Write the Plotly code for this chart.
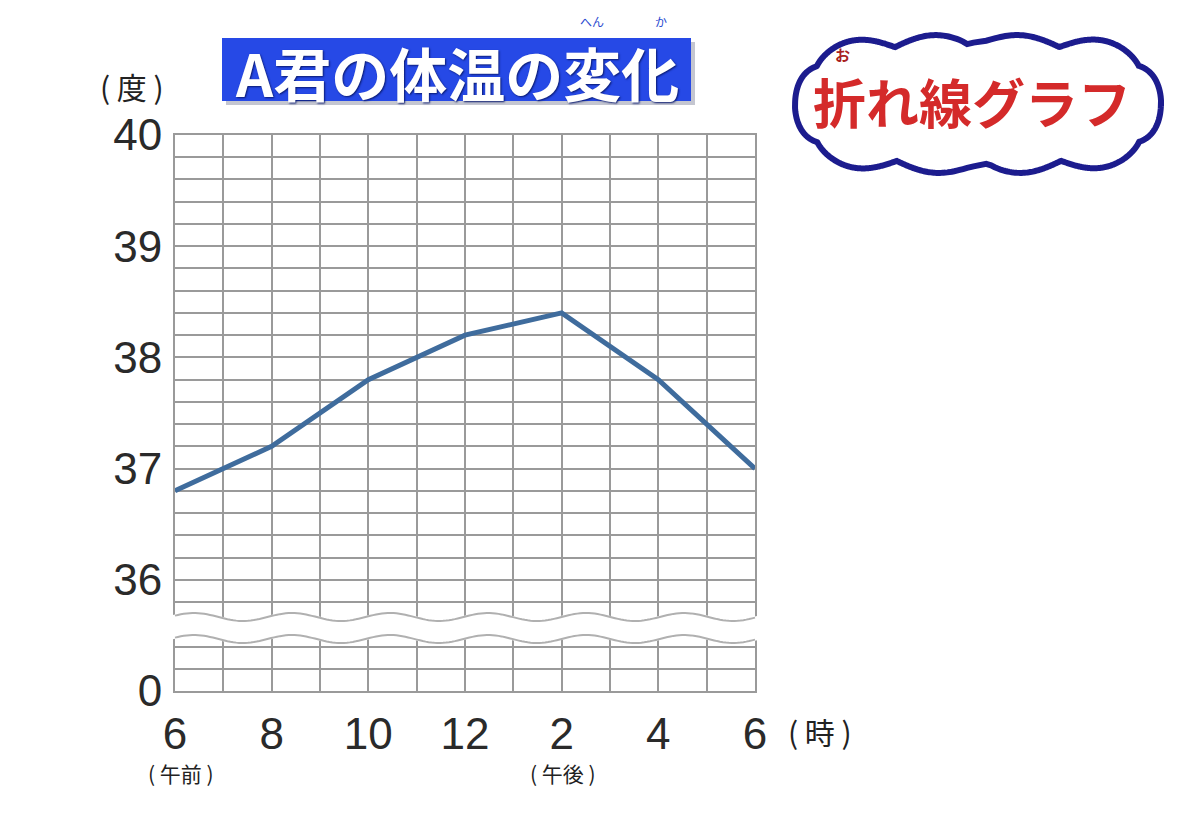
import numpy as np
import plotly.graph_objects as go

# data
hours = [6, 8, 10, 12, 14, 16, 18]
hour_labels = ["6", "8", "10", "12", "2", "4", "6"]
temps = [36.8, 37.2, 37.8, 38.2, 38.4, 37.8, 37.0]
y_labels = ["0", "36", "37", "38", "39", "40"]
y_values = [0, 36, 37, 38, 39, 40]

# broken axis: the "0" row sits one degree below 36
BREAK_BASE = 35.0


def to_axis(v):
    return BREAK_BASE if v == 0 else v


# plot box in pixels
L, R, T, B = 175, 755, 135, 691
W, H = 1200, 821


def px(x):
    return (x - L) / (R - L)


def py(y):
    return (B - y) / (B - T)


def ypx_to_data(y):
    return BREAK_BASE + (B - y) / (B - T) * 5.0


GRID = "#9a9a9a"
CJK = "Noto Sans CJK JP"

fig = go.Figure()
fig.add_trace(go.Scatter(
    x=hours, y=temps, mode="lines",
    line=dict(color="#3f6c9d", width=5),
    hoverinfo="skip", showlegend=False))

shapes = []

# wavy break across the grid
xs = np.linspace(L - 3, R + 3, 200)
wave = 4 * np.cos(2 * np.pi * (xs - 243) / 98)
upper = ypx_to_data(617 + wave)
lower = ypx_to_data(639 + wave)


def pts(xv, yv):
    return " L ".join(f"{px(a):.5f},{b:.5f}" for a, b in zip(xv, yv))


band = "M " + pts(xs, upper + 0.01) + " L " + pts(xs[::-1], (lower - 0.01)[::-1]) + " Z"
shapes.append(dict(type="path", xref="paper", yref="y", path=band,
                   fillcolor="white", line=dict(width=0), layer="above"))
xs2 = np.linspace(L, R, 200)
wave2 = 4 * np.cos(2 * np.pi * (xs2 - 243) / 98)
for base in (617, 639):
    shapes.append(dict(type="path", xref="paper", yref="y",
                       path="M " + pts(xs2, ypx_to_data(base + wave2)),
                       line=dict(color="#b0b0b0", width=2), layer="above"))

# title box with shadow
shapes.append(dict(type="rect", xref="paper", yref="paper",
                   x0=px(226), x1=px(695), y0=py(105), y1=py(42),
                   fillcolor="#c4c6d0", line=dict(width=0)))
shapes.append(dict(type="rect", xref="paper", yref="paper",
                   x0=px(222), x1=px(691), y0=py(101), y1=py(38),
                   fillcolor="#2649e6", line=dict(width=0)))

# cloud outline
t = np.linspace(0, 2 * np.pi, 1200)
cx, cy, a, b = 978, 104, 172, 58
p = 0.55
bx = cx + a * np.sign(np.cos(t)) * np.abs(np.cos(t)) ** p
by = cy + b * np.sign(np.sin(t)) * np.abs(np.sin(t)) ** p
seg = np.hypot(np.diff(bx, append=bx[0]), np.diff(by, append=by[0]))
s = np.cumsum(seg) / seg.sum()
bump = np.abs(np.sin(np.pi * 10 * (s + 0.05)))
nx = np.gradient(by)
ny = -np.gradient(bx)
nn = np.hypot(nx, ny)
nx, ny = nx / nn, ny / nn
d = 11 * bump
cxs = bx - nx * d
cys = by - ny * d
# make sure normal points outward
if np.mean((cxs - cx) ** 2) < np.mean((bx - cx) ** 2):
    cxs = bx + nx * d
    cys = by + ny * d
cloud = "M " + " L ".join(f"{px(u):.5f},{py(v):.5f}" for u, v in zip(cxs, cys)) + " Z"
shapes.append(dict(type="path", xref="paper", yref="paper", path=cloud,
                   fillcolor="white", line=dict(color="#1c1c8e", width=6)))

annotations = [
    dict(text="A君の体温の変化", x=px(457), y=py(72),
         font=dict(family=CJK, size=58, color="white", weight="bold",
                   shadow="1px 1px 2px #0a1a70")),
    dict(text="へん", x=px(592), y=py(22),
         font=dict(family=CJK, size=12, color="#2a4ad0")),
    dict(text="か", x=px(661), y=py(22),
         font=dict(family=CJK, size=12, color="#2a4ad0")),
    dict(text="折れ線グラフ", x=px(972), y=py(101),
         font=dict(family=CJK, size=53, color="#d42a2a", weight="bold")),
    dict(text="お", x=px(842), y=py(54),
         font=dict(family=CJK, size=15, color="#a82020", weight="bold")),
    dict(text="( 度 )", x=px(132), y=py(86),
         font=dict(family=CJK, size=30, color="#222222")),
    dict(text="( 時 )", x=px(820), y=py(731),
         font=dict(family=CJK, size=30, color="#222222")),
    dict(text="( 午前 )", x=px(181), y=py(773),
         font=dict(family=CJK, size=21, color="#222222")),
    dict(text="( 午後 )", x=px(563), y=py(773),
         font=dict(family=CJK, size=21, color="#222222")),
]
for an in annotations:
    an.update(xref="paper", yref="paper", showarrow=False,
              xanchor="center", yanchor="middle")

tick_font = dict(family="Liberation Sans", size=44, color="#2a2a2a")

fig.update_layout(
    width=W, height=H,
    margin=dict(l=L, r=W - R, t=T, b=H - B),
    paper_bgcolor="white", plot_bgcolor="white",
    shapes=shapes, annotations=annotations,
    xaxis=dict(range=[hours[0], hours[-1]], tickvals=hours, ticktext=hour_labels,
               showgrid=True, gridcolor=GRID, gridwidth=2,
               minor=dict(dtick=1, tick0=6, showgrid=True, gridcolor=GRID, gridwidth=2),
               showline=True, mirror=True, linecolor=GRID, linewidth=2,
               zeroline=False, ticks="", ticklabelstandoff=3,
               tickfont=tick_font),
    yaxis=dict(range=[BREAK_BASE, 40], tickvals=[to_axis(v) for v in y_values],
               ticktext=y_labels,
               showgrid=True, gridcolor=GRID, gridwidth=2,
               minor=dict(dtick=0.2, tick0=35, showgrid=True, gridcolor=GRID, gridwidth=2),
               showline=True, mirror=True, linecolor=GRID, linewidth=2,
               zeroline=False, ticks="", ticklabelstandoff=2,
               tickfont=tick_font),
)

fig.write_html("out.html", config={"displayModeBar": False},
               post_script="document.body.style.margin='0';")
